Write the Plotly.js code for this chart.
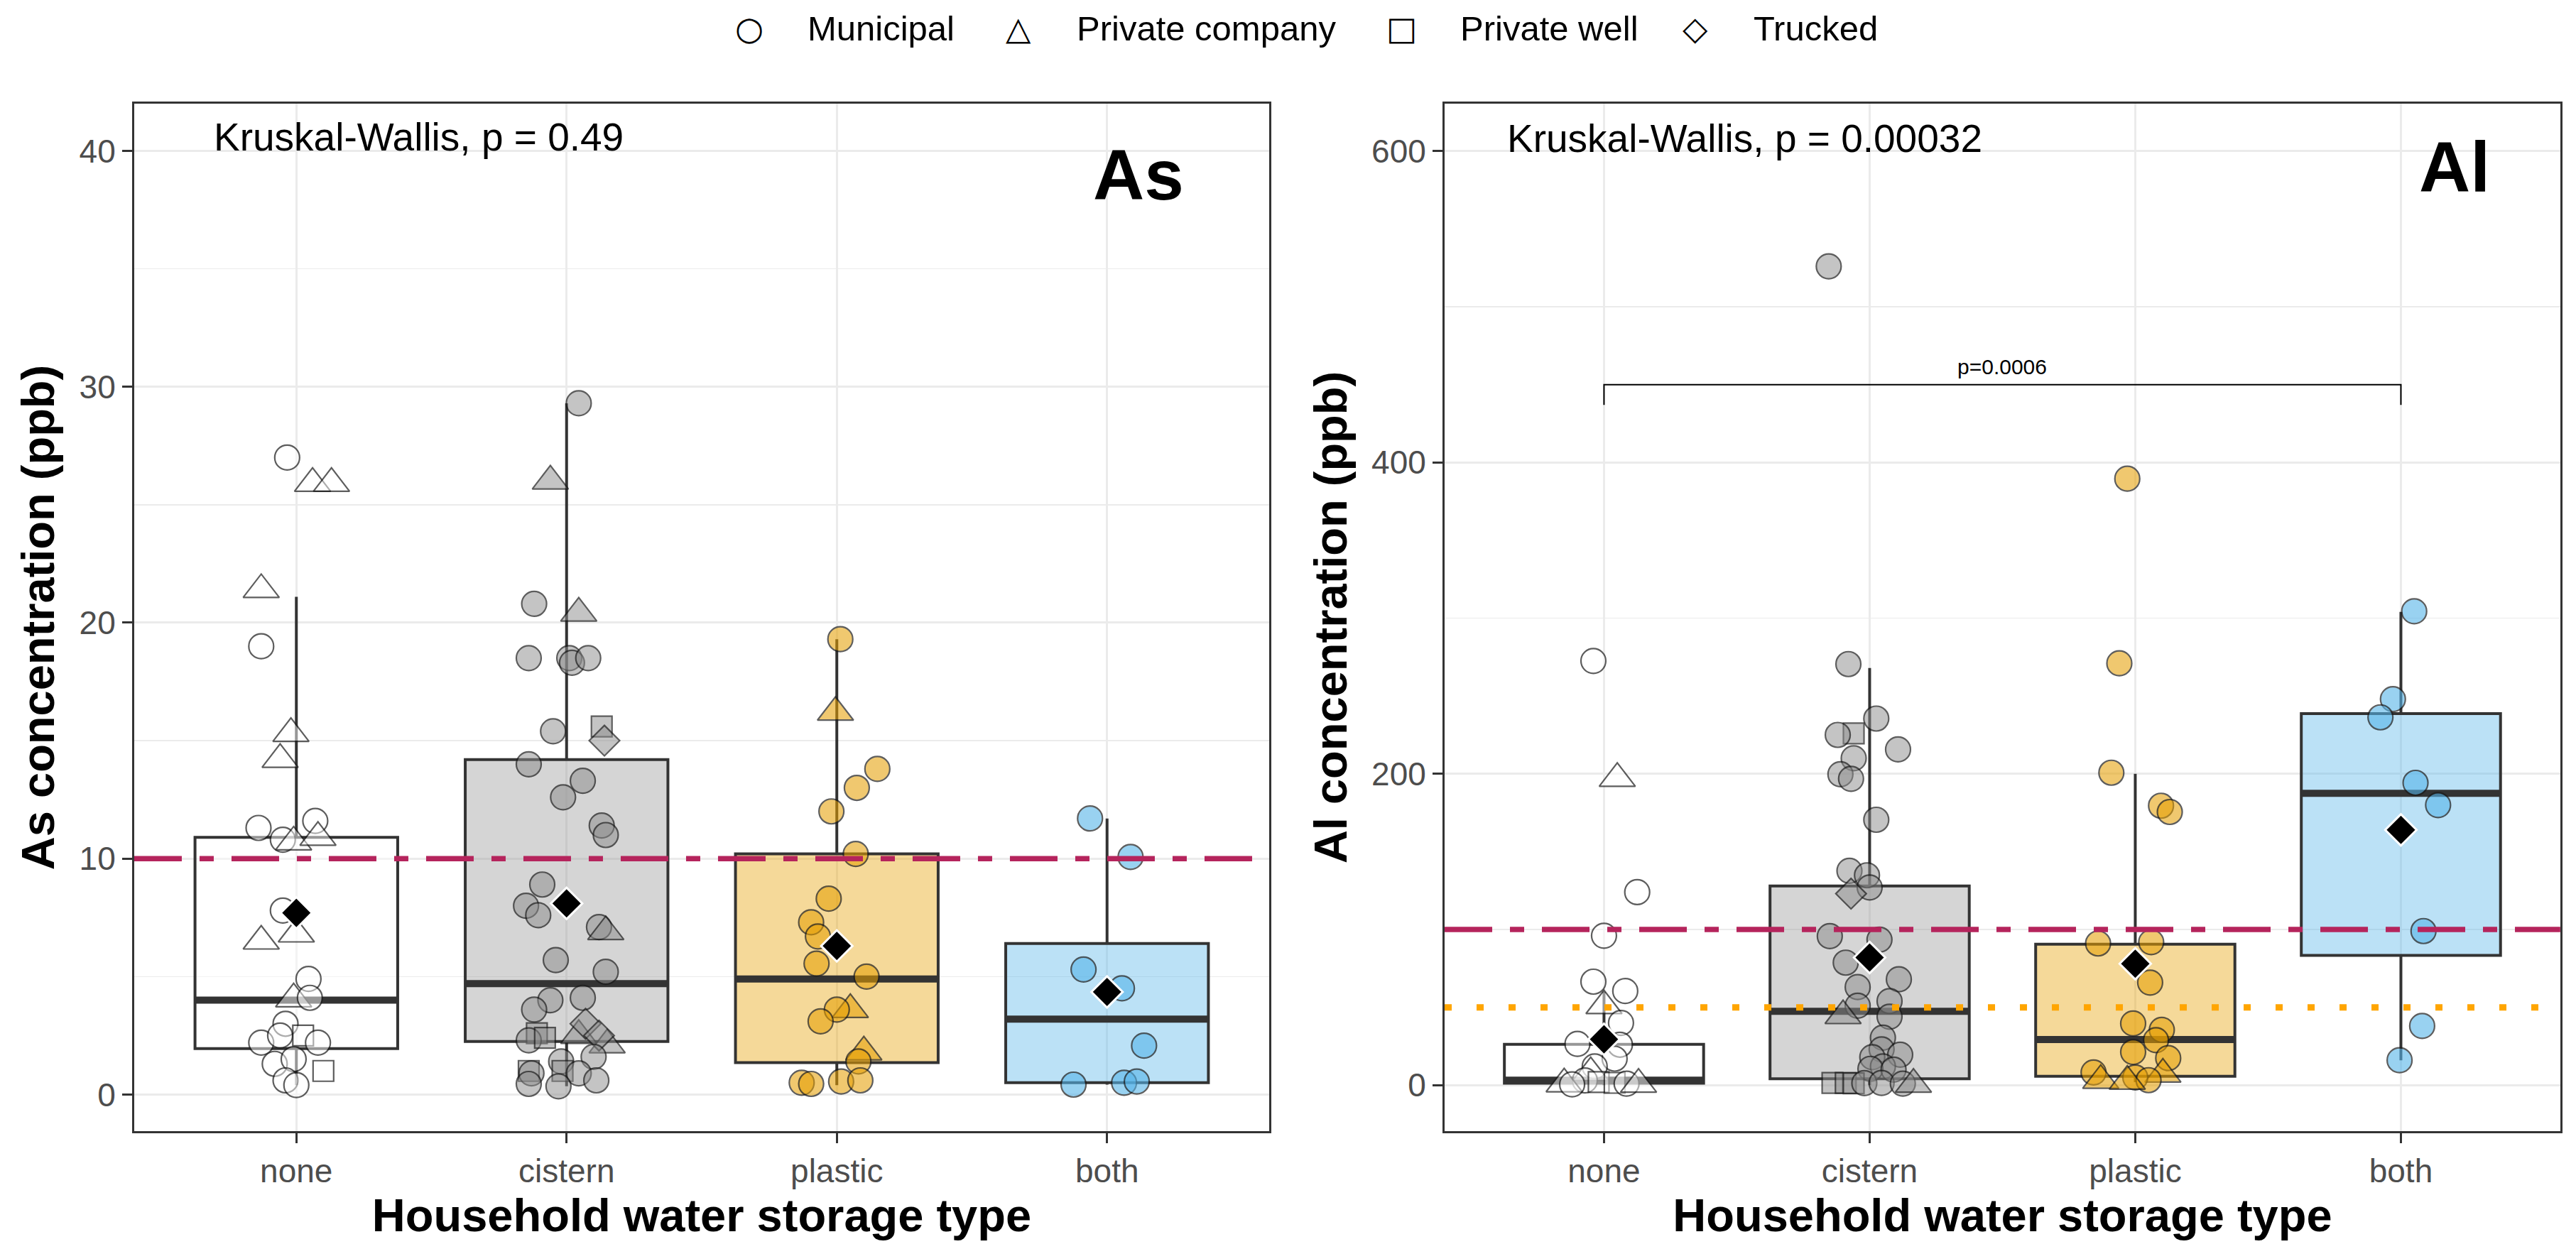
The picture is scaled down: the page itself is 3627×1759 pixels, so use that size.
<!DOCTYPE html>
<html>
<head>
<meta charset="utf-8">
<script src="https://cdn.plot.ly/plotly-3.0.1.min.js"></script>
<style>
html,body{margin:0;padding:0;background:#fff;}
#chart{width:3627px;height:1759px;}
</style>
</head>
<body>
<div id="chart"></div>
<script>
// ---------------- DATA ----------------
const categories = ['none', 'cistern', 'plastic', 'both'];
const sourceNames = ['Municipal', 'Private company', 'Private well', 'Trucked'];
const sourceCodes = ['M', 'P', 'W', 'T'];

// As panel: points (value, jitter offset, source code)
const asNoneY   = [27.0,25.9,25.9,21.4,19.0,15.3,14.2,11.3,10.8,10.7,11.6,10.9,7.8,6.5,6.8,4.9,4.05,4.1,3.0,2.2,2.5,2.5,2.2,1.3,1.5,1.0,0.6,0.4];
const asNoneJit = [-0.034,0.06,0.13,-0.13,-0.13,-0.02,-0.06,-0.14,-0.05,-0.01,0.07,0.08,-0.05,-0.13,0.0,0.045,-0.01,0.05,-0.04,-0.13,-0.06,0.025,0.08,-0.08,-0.01,0.10,-0.04,0.0];
const asNoneSrc = ['M','P','P','P','M','P','P','M','M','P','M','P','M','P','P','M','P','M','M','M','M','W','M','M','M','W','M','M'];

const asCisternY   = [29.3,26.0,20.8,20.4,18.5,18.5,18.3,18.5,15.4,15.6,15.0,14.0,13.3,12.6,11.4,11.0,8.9,8.0,7.6,7.1,6.9,5.7,5.2,4.0,4.1,3.6,2.6,2.3,2.4,2.5,3.0,2.1,2.5,1.6,1.0,0.9,1.4,1.0,0.9,0.45,0.35,0.6];
const asCisternJit = [0.045,-0.06,-0.12,0.045,-0.14,0.01,0.02,0.08,-0.05,0.13,0.14,-0.14,0.06,-0.013,0.13,0.145,-0.09,-0.15,-0.105,0.12,0.145,-0.04,0.145,-0.06,0.06,-0.12,-0.11,-0.14,-0.08,0.045,0.07,0.15,0.12,0.10,-0.14,-0.13,-0.02,-0.015,0.045,-0.14,-0.03,0.11];
const asCisternSrc = ['M','P','M','P','M','M','M','M','M','W','T','M','M','M','M','M','M','M','M','M','P','M','M','M','M','M','W','M','W','P','T','P','T','M','W','M','M','W','M','M','M','M'];

const asPlasticY   = [19.3,16.2,13.8,13.0,12.0,10.2,8.3,7.3,6.7,5.55,5.0,3.6,3.6,3.1,1.8,1.4,0.55,0.6,0.5,0.45];
const asPlasticJit = [0.013,-0.005,0.15,0.074,-0.02,0.07,-0.03,-0.095,-0.07,-0.075,0.11,0.05,0.0,-0.06,0.1,0.08,0.016,0.087,-0.13,-0.095];
const asPlasticSrc = ['M','P','M','M','M','M','M','M','M','M','M','P','M','M','P','M','M','M','M','M'];

const asBothY   = [11.7,10.07,5.3,4.5,2.07,0.42,0.5,0.55];
const asBothJit = [-0.063,0.087,-0.087,0.055,0.137,-0.124,0.063,0.11];
const asBothSrc = ['M','M','M','M','M','M','M','M'];

// As box statistics
const asQ1   = [1.95, 2.25, 1.35, 0.5];
const asMed  = [4.0, 4.7, 4.9, 3.2];
const asQ3   = [10.9, 14.2, 10.2, 6.4];
const asLo   = [0.4, 0.35, 0.4, 0.42];
const asHi   = [21.1, 29.3, 19.3, 11.7];
const asMean = [7.7, 8.1, 6.3, 4.35];

// Al panel points
const alNoneY   = [272.5,197,124,96,66.5,60.5,51,40,26.5,26,17,12,8,3,2,1.5,1,0.8,0.5,0.5];
const alNoneJit = [-0.04,0.05,0.125,0.0,-0.04,0.08,0.0,0.064,-0.10,0.06,0.04,-0.035,-0.05,-0.072,-0.02,0.04,0.085,-0.15,0.13,-0.12];
const alNoneSrc = ['M','P','M','M','M','M','P','M','M','M','M','M','P','M','W','W','M','P','P','M'];

const alCisternY   = [526,270.5,235.5,226,225,215.7,210,199.7,196.8,170.5,137.7,134.8,127,123,95.7,93.5,78.7,68,63,54,51,44.6,44,30.5,23,19.6,18,12,10.5,10,1.4,1.4,1.2,1.3,1.4,1.0,0.5];
const alCisternJit = [-0.154,-0.08,0.025,-0.06,-0.12,0.107,-0.06,-0.11,-0.07,0.025,-0.076,-0.01,0.0,-0.07,-0.15,0.037,-0.09,0.11,-0.045,0.075,-0.045,-0.10,0.075,0.05,0.045,0.115,0.01,0.05,0.003,0.09,-0.14,-0.09,-0.06,-0.02,0.045,0.125,0.165];
const alCisternSrc = ['M','M','M','W','M','M','M','M','M','M','M','M','M','T','M','M','M','M','M','M','M','P','M','M','M','M','M','M','M','M','W','W','W','M','M','M','P'];

const alPlasticY   = [389.6,271,200.7,179.5,175.5,91,91.9,65.9,39.6,35.5,28.9,21.3,17.4,8.2,7,5,3.2,3,2.5];
const alPlasticJit = [-0.03,-0.06,-0.09,0.097,0.13,-0.14,0.06,0.056,-0.008,0.1,0.078,-0.008,0.124,-0.157,0.104,0.0,0.05,-0.13,-0.03];
const alPlasticSrc = ['M','M','M','M','M','M','M','M','M','M','M','M','M','M','P','M','M','P','P'];

const alBothY   = [304.4,248,236.3,194.2,179.9,99,38,16];
const alBothJit = [0.05,-0.03,-0.077,0.055,0.14,0.085,0.08,-0.005];
const alBothSrc = ['M','M','M','M','M','M','M','M'];

// Al box statistics
const alQ1   = [1.3, 4.1, 5.7, 83.4];
const alMed  = [3.2, 47.5, 29.3, 187.5];
const alQ3   = [26.2, 128, 90.6, 238.7];
const alLo   = [0.0, 0.0, 2.0, 16];
const alHi   = [60, 268, 200, 304];
const alMean = [29.5, 82, 78, 164];

// Reference limits and tests
const asLimits = [10];
const alLimits = [100, 50];
const asTest = 'Kruskal-Wallis, p = 0.49';
const alTest = 'Kruskal-Wallis, p = 0.00032';
const alPairFrom = 'none', alPairTo = 'both', alPairY = [450], alPairLabel = 'p=0.0006';
const asTicks = [0, 10, 20, 30, 40];
const alTicks = [0, 200, 400, 600];

// ---------------- STYLE ----------------
const FONT = 'Liberation Sans, Arial, Helvetica, sans-serif';
const pointFill = ['rgba(255,255,255,0.7)', 'rgba(140,140,140,0.72)', 'rgba(230,159,0,0.8)', 'rgba(86,180,233,0.85)'];
const boxFill = ['rgba(255,255,255,0.4)', 'rgba(150,150,150,0.4)', 'rgba(230,159,0,0.4)', 'rgba(86,180,233,0.4)'];
const symbolOf = {M: 'circle', P: 'triangle-up', W: 'square', T: 'diamond'};
const sizeOf = {M: 35, P: 44, W: 29, T: 33};
const BOXW = 0.75;
const DARK = '#333333';
const CRIMSON = '#B5245C';
const ORANGE = '#FFA500';

function panelTraces(ax, ay, groups, q1, med, q3, lo, hi, mean) {
  const tr = [];
  for (let i = 0; i < 4; i++) {
    tr.push({
      type: 'box', x: [i + 1], q1: [q1[i]], median: [med[i]], q3: [q3[i]],
      lowerfence: [lo[i]], upperfence: [hi[i]], width: BOXW,
      fillcolor: boxFill[i], line: {color: DARK, width: 4}, whiskerwidth: 0,
      boxpoints: false, xaxis: ax, yaxis: ay, hoverinfo: 'skip', showlegend: false
    });
  }
  // thick median bars
  const mx = [], my = [];
  med.forEach((m, i) => { mx.push(i + 1 - BOXW / 2, i + 1 + BOXW / 2, null); my.push(m, m, null); });
  tr.push({type: 'scatter', mode: 'lines', x: mx, y: my, line: {color: DARK, width: 10},
    xaxis: ax, yaxis: ay, hoverinfo: 'skip', showlegend: false});
  // jittered points
  groups.forEach((g, i) => {
    tr.push({
      type: 'scatter', mode: 'markers',
      x: g.jit.map(j => i + 1 + j), y: g.y,
      marker: {
        symbol: g.src.map(s => symbolOf[s]), size: g.src.map(s => sizeOf[s]),
        color: pointFill[i], line: {color: '#1a1a1a', width: 2.2}
      },
      xaxis: ax, yaxis: ay, hoverinfo: 'y', showlegend: false
    });
  });
  // group means
  tr.push({type: 'scatter', mode: 'markers', x: mean.map((m, i) => i + 1), y: mean,
    marker: {symbol: 'diamond', size: 34, color: '#000000', line: {color: '#ffffff', width: 3}},
    xaxis: ax, yaxis: ay, hoverinfo: 'y', showlegend: false});
  return tr;
}

const traces = [].concat(
  panelTraces('x', 'y', [
    {y: asNoneY, jit: asNoneJit, src: asNoneSrc},
    {y: asCisternY, jit: asCisternJit, src: asCisternSrc},
    {y: asPlasticY, jit: asPlasticJit, src: asPlasticSrc},
    {y: asBothY, jit: asBothJit, src: asBothSrc}
  ], asQ1, asMed, asQ3, asLo, asHi, asMean),
  panelTraces('x2', 'y2', [
    {y: alNoneY, jit: alNoneJit, src: alNoneSrc},
    {y: alCisternY, jit: alCisternJit, src: alCisternSrc},
    {y: alPlasticY, jit: alPlasticJit, src: alPlasticSrc},
    {y: alBothY, jit: alBothJit, src: alBothSrc}
  ], alQ1, alMed, alQ3, alLo, alHi, alMean)
);

function xAxis(domain, anchor) {
  return {
    domain: domain, anchor: anchor, range: [0.4, 4.6],
    tickvals: [1, 2, 3, 4], ticktext: categories,
    showgrid: true, gridcolor: '#EBEBEB', gridwidth: 3, zeroline: false,
    showline: true, mirror: true, linecolor: DARK, linewidth: 3,
    ticks: 'outside', ticklen: 14, tickwidth: 3, tickcolor: DARK,
    tickfont: {family: FONT, size: 46, color: '#4D4D4D'},
    title: {text: 'Household water storage type', font: {family: FONT, size: 65, color: '#000', weight: 'bold'}, standoff: 12},
    automargin: false, fixedrange: true
  };
}
function yAxis(anchor, range, ticks, minor, titleText) {
  return {
    domain: [0.0944, 0.917], anchor: anchor, range: range,
    tickvals: ticks, showgrid: true, gridcolor: '#EBEBEB', gridwidth: 3, zeroline: false,
    minor: {dtick: minor, showgrid: true, gridcolor: '#EBEBEB', gridwidth: 1.5},
    showline: true, mirror: true, linecolor: DARK, linewidth: 3,
    ticks: 'outside', ticklen: 14, tickwidth: 3, tickcolor: DARK,
    tickfont: {family: FONT, size: 46, color: '#4D4D4D'},
    title: {text: titleText, font: {family: FONT, size: 65, color: '#000', weight: 'bold'}, standoff: 14},
    automargin: false, fixedrange: true
  };
}

const shapes = [];
asLimits.forEach(v => shapes.push({type: 'line', xref: 'x domain', yref: 'y', x0: 0, x1: 1, y0: v, y1: v,
  line: {color: CRIMSON, width: 7.5, dash: '67px,25px,20px,25px'}}));
shapes.push({type: 'line', xref: 'x2 domain', yref: 'y2', x0: 0, x1: 1, y0: alLimits[0], y1: alLimits[0],
  line: {color: CRIMSON, width: 7.5, dash: '67px,25px,20px,25px'}});
shapes.push({type: 'line', xref: 'x2 domain', yref: 'y2', x0: 0, x1: 1, y0: alLimits[1], y1: alLimits[1],
  line: {color: ORANGE, width: 9, dash: '10px,35px'}});
// significance bracket
const pA = categories.indexOf(alPairFrom) + 1, pB = categories.indexOf(alPairTo) + 1;
const tickDrop = 13;
shapes.push({type: 'path', xref: 'x2', yref: 'y2',
  path: `M${pA},${alPairY[0] - tickDrop} L${pA},${alPairY[0]} L${pB},${alPairY[0]} L${pB},${alPairY[0] - tickDrop}`,
  line: {color: '#000', width: 2}});

const annotations = [
  {xref: 'x', yref: 'y', x: 0.69, y: 40.6, text: asTest, showarrow: false, xanchor: 'left', yanchor: 'middle',
    font: {family: FONT, size: 55, color: '#000'}},
  {xref: 'x2', yref: 'y2', x: 0.631, y: 608, text: alTest, showarrow: false, xanchor: 'left', yanchor: 'middle',
    font: {family: FONT, size: 55, color: '#000'}},
  {xref: 'x', yref: 'y', x: 4.29, y: 39.0, text: 'As', showarrow: false, xanchor: 'right', yanchor: 'middle',
    font: {family: FONT, size: 100, color: '#000', weight: 'bold'}},
  {xref: 'x2', yref: 'y2', x: 4.342, y: 590, text: 'Al', showarrow: false, xanchor: 'right', yanchor: 'middle',
    font: {family: FONT, size: 100, color: '#000', weight: 'bold'}},
  {xref: 'x2', yref: 'y2', x: (pA + pB) / 2, y: alPairY[0] + 3, text: alPairLabel, showarrow: false, xanchor: 'center', yanchor: 'bottom',
    font: {family: FONT, size: 30, color: '#000'}}
];
// legend (drawn as text)
const legendGlyphs = ['○', '△', '□', '◇'];
const legendGlyphX = [0.2909, 0.3954, 0.5440, 0.6581];
const legendTextX = [0.3129, 0.4174, 0.5663, 0.6802];
sourceNames.forEach((n, i) => {
  annotations.push({xref: 'paper', yref: 'paper', x: legendGlyphX[i], y: 0.977, text: legendGlyphs[i], showarrow: false,
    xanchor: 'center', yanchor: 'middle', font: {family: 'DejaVu Sans', size: 46, color: '#000'}});
  annotations.push({xref: 'paper', yref: 'paper', x: legendTextX[i], y: 0.977, text: n, showarrow: false,
    xanchor: 'left', yanchor: 'middle', font: {family: FONT, size: 49, color: '#000'}});
});

const layout = {
  width: 3627, height: 1759, autosize: false,
  margin: {l: 0, r: 0, t: 0, b: 0, pad: 0},
  paper_bgcolor: '#ffffff', plot_bgcolor: '#ffffff',
  showlegend: false, boxmode: 'overlay',
  font: {family: FONT},
  xaxis: xAxis([0.0521, 0.4927], 'y'),
  yaxis: yAxis('x', [-1.55, 42.0], asTicks, 5, 'As concentration (ppb)'),
  xaxis2: xAxis([0.5608, 0.9939], 'y2'),
  yaxis2: yAxis('x2', [-29.5, 630.5], alTicks, 100, 'Al concentration (ppb)'),
  shapes: shapes, annotations: annotations
};

Plotly.newPlot('chart', traces, layout, {displayModeBar: false, staticPlot: true});
</script>
</body>
</html>
